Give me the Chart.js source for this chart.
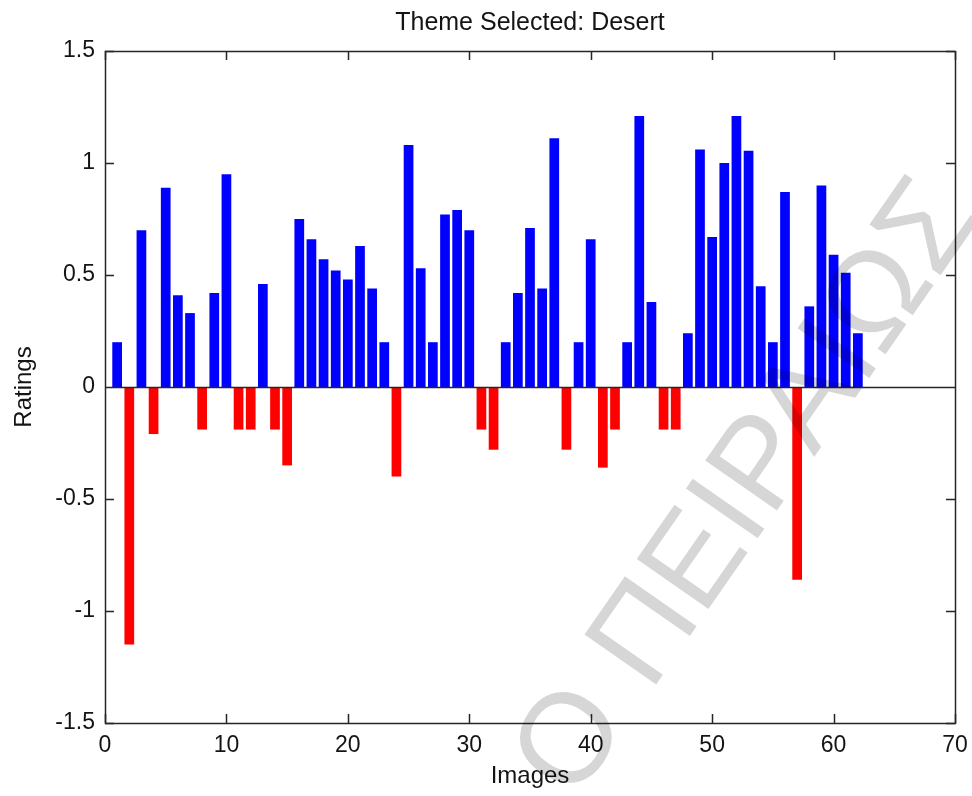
<!DOCTYPE html>
<html>
<head>
<meta charset="utf-8">
<title>Theme Selected: Desert</title>
<script src="https://cdn.jsdelivr.net/npm/chart.js@4/dist/chart.umd.min.js"></script>
<style>
  html, body { margin: 0; padding: 0; background: #ffffff; }
  #wrap { width: 972px; height: 796px; }
</style>
</head>
<body>
<div id="wrap"><canvas id="chart" width="972" height="796"></canvas></div>
<script>
// Chart text
const chartTitle = 'Theme Selected: Desert';
const xAxisLabel = 'Images';
const yAxisLabel = 'Ratings';
const watermarkText = 'Ο ΠΕΙΡΑΙΩΣ';

// Image index for every bar
const images = [
  1, 2, 3, 4, 5, 6, 7, 8, 9, 10,
  11, 12, 13, 14, 15, 16, 17, 18, 19, 20,
  21, 22, 23, 24, 25, 26, 27, 28, 29, 30,
  31, 32, 33, 34, 35, 36, 37, 38, 39, 40,
  41, 42, 43, 44, 45, 46, 47, 48, 49, 50,
  51, 52, 53, 54, 55, 56, 57, 58, 59, 60,
  61, 62
];

// Rating of each image (positive = blue, negative = red)
const ratings = [
  0.20, -1.15, 0.70, -0.21, 0.89, 0.41, 0.33, -0.19, 0.42, 0.95,
  -0.19, -0.19, 0.46, -0.19, -0.35, 0.75, 0.66, 0.57, 0.52, 0.48,
  0.63, 0.44, 0.20, -0.40, 1.08, 0.53, 0.20, 0.77, 0.79, 0.70,
  -0.19, -0.28, 0.20, 0.42, 0.71, 0.44, 1.11, -0.28, 0.20, 0.66,
  -0.36, -0.19, 0.20, 1.21, 0.38, -0.19, -0.19, 0.24, 1.06, 0.67,
  1.00, 1.21, 1.055, 0.45, 0.20, 0.87, -0.86, 0.36, 0.90, 0.59,
  0.51, 0.24
];

// Axis ticks
const xTickValues = [0, 10, 20, 30, 40, 50, 60, 70];
const xTickLabels = ['0', '10', '20', '30', '40', '50', '60', '70'];
const yTickValues = [-1.5, -1, -0.5, 0, 0.5, 1, 1.5];
const yTickLabels = ['-1.5', '-1', '-0.5', '0', '0.5', '1', '1.5'];

const FONT = "'Liberation Sans', Arial, Helvetica, sans-serif";
const INK = '#141414';
const FRAME = '#262626';

// Box around the axes, inward tick marks on all four sides and the zero line
const framePlugin = {
  id: 'frame',
  afterDatasetsDraw(chart) {
    const { ctx, chartArea: a, scales: { x, y } } = chart;
    const tick = 9;
    ctx.save();
    ctx.strokeStyle = FRAME;
    ctx.lineWidth = 1.5;
    ctx.beginPath();
    const y0 = Math.round(y.getPixelForValue(0)) + 0.5;
    ctx.moveTo(a.left, y0);
    ctx.lineTo(a.right, y0);
    xTickValues.forEach(v => {
      const px = Math.round(x.getPixelForValue(v)) + 0.5;
      ctx.moveTo(px, a.bottom); ctx.lineTo(px, a.bottom - tick);
      ctx.moveTo(px, a.top); ctx.lineTo(px, a.top + tick);
    });
    yTickValues.forEach(v => {
      const py = Math.round(y.getPixelForValue(v)) + 0.5;
      ctx.moveTo(a.left, py); ctx.lineTo(a.left + tick, py);
      ctx.moveTo(a.right, py); ctx.lineTo(a.right - tick, py);
    });
    ctx.stroke();
    ctx.strokeRect(Math.round(a.left) + 0.5, Math.round(a.top) + 0.5,
                   Math.round(a.right - a.left), Math.round(a.bottom - a.top));
    ctx.restore();
  }
};

// Light translucent stamp across the lower right of the figure
const stampPlugin = {
  id: 'stamp',
  afterDraw(chart) {
    const { ctx } = chart;
    ctx.save();
    ctx.translate(545, 783);
    ctx.rotate(-55.2 * Math.PI / 180);
    ctx.font = '127px ' + FONT;
    ctx.fillStyle = 'rgba(0, 0, 0, 0.16)';
    ctx.textAlign = 'left';
    ctx.textBaseline = 'middle';
    ctx.fillText(watermarkText, 0, 0);
    ctx.restore();
  }
};

new Chart(document.getElementById('chart'), {
  type: 'bar',
  data: {
    datasets: [{
      label: yAxisLabel,
      data: images.map((img, i) => ({ x: img, y: ratings[i] })),
      backgroundColor: ratings.map(v => (v < 0 ? '#ff0000' : '#0000ff')),
      borderWidth: 0,
      barPercentage: 0.8,
      categoryPercentage: 1.0
    }]
  },
  options: {
    responsive: false,
    animation: false,
    devicePixelRatio: 1,
    layout: { padding: { left: 0, right: 17, top: 0, bottom: 0 } },
    plugins: {
      legend: { display: false },
      tooltip: { enabled: false },
      title: {
        display: true,
        text: chartTitle,
        fullSize: false,
        color: INK,
        font: { family: FONT, size: 25, weight: 'normal' },
        padding: { top: 8, bottom: 13 }
      }
    },
    scales: {
      x: {
        type: 'linear',
        position: 'bottom',
        min: 0,
        max: 70,
        offset: false,
        grid: { display: false, offset: false, drawTicks: false, tickLength: 0 },
        border: { display: false },
        afterBuildTicks: s => { s.ticks = xTickValues.map(value => ({ value })); },
        afterFit: s => { s.height = 73; s.paddingLeft = 0; s.paddingRight = 0; },
        ticks: {
          autoSkip: false,
          maxRotation: 0,
          padding: 9,
          color: INK,
          font: { family: FONT, size: 23 },
          callback: v => xTickLabels[xTickValues.indexOf(v)]
        },
        title: {
          display: true,
          text: xAxisLabel,
          color: INK,
          font: { family: FONT, size: 24 },
          padding: { top: 0, bottom: 5 }
        }
      },
      y: {
        type: 'linear',
        min: -1.5,
        max: 1.5,
        grid: { display: false, drawTicks: false, tickLength: 0 },
        border: { display: false },
        afterBuildTicks: s => { s.ticks = yTickValues.map(value => ({ value })); },
        afterFit: s => { s.width = 105; s.paddingTop = 0; s.paddingBottom = 0; },
        ticks: {
          autoSkip: false,
          padding: 10,
          color: INK,
          font: { family: FONT, size: 23 },
          callback: v => yTickLabels[yTickValues.indexOf(v)]
        },
        title: {
          display: true,
          text: yAxisLabel,
          color: INK,
          font: { family: FONT, size: 24 },
          padding: { top: 10, bottom: 0 }
        }
      }
    }
  },
  plugins: [framePlugin, stampPlugin]
});
</script>
</body>
</html>
